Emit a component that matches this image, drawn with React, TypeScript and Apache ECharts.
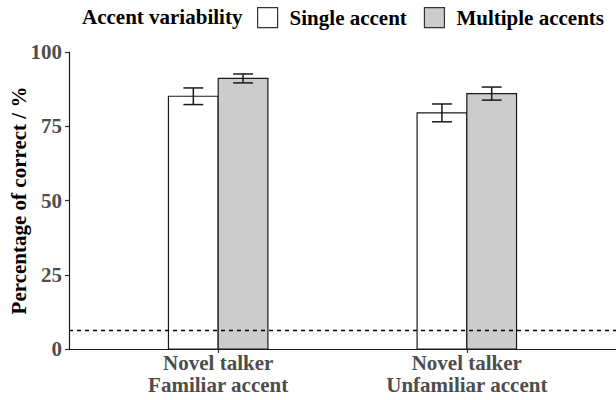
import React, { useEffect, useRef } from "react";
import * as echarts from "echarts";

const categories = ["Novel talker\nFamiliar accent", "Novel talker\nUnfamiliar accent"];
const seriesNames = ["Single accent", "Multiple accents"];
const singleMean = [85.1, 79.5];
const singleErr = [2.8, 3.0];
const multipleMean = [91.1, 86.0];
const multipleErr = [1.5, 2.2];
const chanceLevel = 6.25;
const yTicks = [0, 25, 50, 75, 100];

const FONT = "Liberation Serif";
const BAR_W = 0.2; // in category units
const CAP_W = 0.08;

function makeRender(offset: number, fill: string) {
  return (params: any, api: any) => {
    const x = api.value(0);
    const v = api.value(1);
    const e = api.value(2);
    const cx = x + offset * BAR_W;
    const p0 = api.coord([cx - BAR_W / 2, 0]);
    const p1 = api.coord([cx + BAR_W / 2, v]);
    const top = api.coord([cx, v + e]);
    const bot = api.coord([cx, v - e]);
    const capL = api.coord([cx - CAP_W / 2, v])[0];
    const capR = api.coord([cx + CAP_W / 2, v])[0];
    const lineStyle = { stroke: "#1a1a1a", lineWidth: 1.5 };
    return {
      type: "group",
      children: [
        {
          type: "rect",
          shape: { x: p0[0], y: p1[1], width: p1[0] - p0[0], height: p0[1] - p1[1] },
          style: { fill, stroke: "#1a1a1a", lineWidth: 1.2 },
        },
        { type: "line", shape: { x1: top[0], y1: top[1], x2: bot[0], y2: bot[1] }, style: lineStyle },
        { type: "line", shape: { x1: capL, y1: top[1], x2: capR, y2: top[1] }, style: lineStyle },
        { type: "line", shape: { x1: capL, y1: bot[1], x2: capR, y2: bot[1] }, style: lineStyle },
      ],
    };
  };
}

export default function App() {
  const ref = useRef<HTMLDivElement>(null);
  useEffect(() => {
    if (!ref.current) return;
    const chart = echarts.init(ref.current, null, { renderer: "svg" });
    const singleData = singleMean.map((m, i) => [i + 1, m, singleErr[i]]);
    const multipleData = multipleMean.map((m, i) => [i + 1, m, multipleErr[i]]);
    chart.setOption({
      animation: false,
      backgroundColor: "#ffffff",
      textStyle: { fontFamily: FONT },
      title: {
        text: "Accent variability",
        left: 82,
        top: 6,
        padding: 0,
        textStyle: { fontFamily: FONT, fontWeight: "bold", fontSize: 21, color: "#000" },
      },
      legend: {
        left: 257,
        top: 7,
        padding: 0,
        itemWidth: 20,
        itemHeight: 20,
        itemGap: 17,
        icon: "rect",
        data: [
          { name: seriesNames[0], itemStyle: { color: "#ffffff", borderColor: "#333", borderWidth: 1.2 } },
          { name: seriesNames[1], itemStyle: { color: "#cccccc", borderColor: "#333", borderWidth: 1.2 } },
        ],
        textStyle: { fontFamily: FONT, fontWeight: "bold", fontSize: 21, color: "#000", padding: [0, 0, 0, 7] },
      },
      grid: { left: 69, top: 52, right: 0, bottom: 51, containLabel: false, outerBoundsMode: "none" },
      xAxis: {
        type: "value",
        min: 0.4,
        max: 2.6,
        splitLine: { show: false },
        axisLine: { show: true, lineStyle: { color: "#1a1a1a", width: 1.2 } },
        axisTick: { show: true, length: 4, customValues: [1, 2], lineStyle: { color: "#333", width: 1.2 } },
        axisLabel: {
          customValues: [1, 2],
          formatter: (v: number) => categories[Math.round(v) - 1] ?? "",
          fontFamily: FONT,
          fontWeight: "bold",
          fontSize: 21,
          color: "#4d4d4d",
          lineHeight: 22,
          margin: 3,
        },
      },
      yAxis: {
        type: "value",
        min: 0,
        max: 100,
        interval: 25,
        name: "Percentage of correct / %",
        nameLocation: "middle",
        nameGap: 40,
        nameMoveOverlap: false,
        nameTextStyle: { fontFamily: FONT, fontWeight: "bold", fontSize: 21, color: "#000" },
        splitLine: { show: false },
        axisLine: { show: true, lineStyle: { color: "#1a1a1a", width: 1.2 } },
        axisTick: { show: true, length: 4, lineStyle: { color: "#333", width: 1.2 } },
        axisLabel: {
          fontFamily: FONT,
          fontWeight: "bold",
          fontSize: 21,
          color: "#4d4d4d",
          margin: 7,
          formatter: (v: number) => (yTicks.includes(v) ? String(v) : ""),
        },
      },
      series: [
        {
          name: seriesNames[0],
          type: "custom",
          renderItem: makeRender(-0.5, "#ffffff"),
          encode: { x: 0, y: 1 },
          data: singleData,
          itemStyle: { color: "#ffffff", borderColor: "#333" },
          z: 2,
        },
        {
          name: seriesNames[1],
          type: "custom",
          renderItem: makeRender(0.5, "#cccccc"),
          encode: { x: 0, y: 1 },
          data: multipleData,
          itemStyle: { color: "#cccccc", borderColor: "#333" },
          z: 2,
          markLine: {
            silent: true,
            symbol: "none",
            label: { show: false },
            lineStyle: { color: "#000", type: [4, 4], width: 1.3 },
            data: [{ yAxis: chanceLevel }],
            z: 5,
          },
        },
      ],
    });
    return () => chart.dispose();
  }, []);
  return <div ref={ref} style={{ position: "fixed", left: 0, top: 0, width: 616, height: 400 }} />;
}
